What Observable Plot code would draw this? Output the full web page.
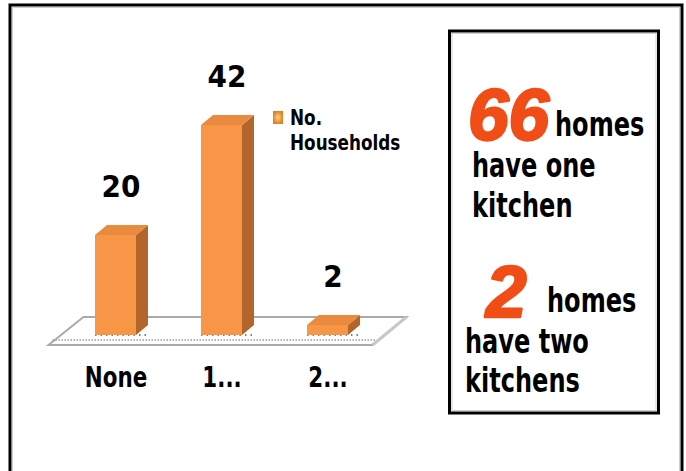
<!DOCTYPE html>
<html>
<head>
<meta charset="utf-8">
<script src="https://cdn.jsdelivr.net/npm/d3@7"></script>
<script src="https://cdn.jsdelivr.net/npm/@observablehq/plot@0.6"></script>
<style>
  html, body { margin: 0; padding: 0; background: #fff; }
  #wrap { position: relative; width: 686px; height: 471px; overflow: hidden; background: #fff; }
  #wrap svg { position: absolute; left: 0; top: 0; }
</style>
</head>
<body>
<div id="wrap"></div>
<script>
// ---- data ----
const categories = ["None", "1...", "2..."];
const households = [20, 42, 2];
const seriesName = ["No.", "Households"];
const summaryValues = [66, 2];
const summaryText = [["homes", "have one", "kitchen"], ["homes", "have two", "kitchens"]];

const data = categories.map((c, i) => ({cat: c, n: households[i]}));

const W = 686, H = 471;
const frontColor = "#f79646", topColor = "#ea8a3e", sideColor = "#b3662c";
const depthX = 12, depthY = 10;
const condensed = '"DejaVu Sans Condensed", "DejaVu Sans", sans-serif';

function svgEl(doc, name) { return doc.createElementNS("http://www.w3.org/2000/svg", name); }

// floor (drawn from the scales)
function floorMark(index, scales, values, dimensions, context) {
  const doc = context.document;
  const g = d3.select(svgEl(doc, "g"));
  const [r0, r1] = scales.x.range();
  const y0 = scales.y(0);
  const bl = [r0 + 20, y0 + 10], br = [r1 - 41, y0 + 10];
  const tl = [r0 + 55, y0 - 18], tr = [r1 - 7, y0 - 18];
  g.append("path")
    .attr("d", `M${bl}L${tl}L${tr}L${br}Z`)
    .attr("fill", "#fff").attr("stroke", "#aaaaaa").attr("stroke-width", 2);
  g.append("path")
    .attr("d", `M${bl[0] + 4},${y0 + 5}L${br[0] + 4},${y0 + 5}`)
    .attr("stroke", "#9a9a9a").attr("stroke-width", 1.5).attr("stroke-dasharray", "1.5,1.5");
  g.append("path")
    .attr("d", `M${br[0]},${br[1]}L${tr[0]},${tr[1]}`)
    .attr("stroke", "#c8c8c8").attr("stroke-width", 3).attr("fill", "none");
  return g.node();
}

function bars3d(index, scales, values, dimensions, context) {
  const doc = context.document;
  const g = d3.select(svgEl(doc, "g"));
  const {x, y} = scales;
  const bw = x.bandwidth();
  for (const i of index) {
    const d = data[i];
    const x0 = x(d.cat), x1 = x0 + bw;
    const yt = y(d.n), yb = y(0);
    g.append("path")
      .attr("d", `M${x0},${yb}L${x1 + depthX},${yb}`)
      .attr("stroke", "#555").attr("stroke-width", 1.5).attr("stroke-dasharray", "1.5,4");
    g.append("path")
      .attr("d", `M${x1},${yt}L${x1 + depthX},${yt - depthY}L${x1 + depthX},${yb - depthY}L${x1},${yb}Z`)
      .attr("fill", sideColor);
    g.append("path")
      .attr("d", `M${x0},${yt}L${x0 + depthX},${yt - depthY}L${x1 + depthX},${yt - depthY}L${x1},${yt}Z`)
      .attr("fill", topColor);
    g.append("rect")
      .attr("x", x0).attr("y", yt).attr("width", bw).attr("height", yb - yt)
      .attr("fill", frontColor);
  }
  return g.node();
}

const chart = Plot.plot({
  width: W,
  height: H,
  marginTop: 125,
  marginBottom: 136,
  marginLeft: 28.5,
  marginRight: 272.5,
  style: {background: "transparent", overflow: "visible"},
  x: {domain: categories, padding: 0.615, label: null},
  y: {domain: [0, 42], axis: null},
  marks: [
    floorMark,
    Plot.barY(data, {x: "cat", y: "n", render: bars3d}),
    Plot.text(data, {
      x: "cat", y: "n", text: d => String(d.n),
      dx: 5, dy: -39, lineAnchor: "bottom",
      fontSize: 31, fontWeight: "bold", fontFamily: condensed, fill: "#000"
    }),
    Plot.axisX({
      tickSize: 0, tickPadding: 32, label: null,
      fontSize: 28, fontWeight: "bold", fontFamily: condensed, fill: "#000"
    })
  ]
});
// narrow the tick labels horizontally (condensed look), keeping their vertical offset
d3.select(chart).selectAll('g[aria-label="x-axis tick label"] text').each(function () {
  const t = d3.select(this);
  const xa = t.attr("x");
  const tr = t.attr("transform") || "";
  if (xa != null && !isNaN(+xa)) {
    t.attr("x", null).attr("transform", `${tr} translate(${+xa},0) scale(0.85,1)`);
  } else {
    t.attr("transform", `${tr} scale(0.85,1)`);
  }
});
document.getElementById("wrap").appendChild(chart);

// ---- overlay: frames, legend, summary box ----
const ov = d3.create("svg").attr("width", W).attr("height", H);
ov.append("path").attr("d", `M12.5,${H}V7.5H679.5V${H}`).attr("fill", "none").attr("stroke", "#cfcfcf").attr("stroke-width", 1);
ov.append("path").attr("d", `M10,${H}V5H682V${H}`).attr("fill", "none").attr("stroke", "#000").attr("stroke-width", 3);
ov.append("rect").attr("x", 452).attr("y", 33.5).attr("width", 204).attr("height", 377).attr("fill", "none").attr("stroke", "#d0d0d0").attr("stroke-width", 1);
ov.append("rect").attr("x", 449.5).attr("y", 31).attr("width", 209).attr("height", 382).attr("fill", "none").attr("stroke", "#000").attr("stroke-width", 3);

function narrowText(parent, x, y, str, size, sx) {
  return parent.append("text")
    .attr("transform", `translate(${x},${y}) scale(${sx},1)`)
    .attr("font-family", condensed).attr("font-weight", "bold").attr("font-size", size)
    .attr("fill", "#000").text(str);
}

// legend
const defs = ov.append("defs");
const grad = defs.append("radialGradient").attr("id", "sw");
grad.append("stop").attr("offset", "0%").attr("stop-color", "#ffd27a");
grad.append("stop").attr("offset", "100%").attr("stop-color", "#e07f2c");
ov.append("rect").attr("x", 273).attr("y", 111).attr("width", 10).attr("height", 13).attr("fill", "url(#sw)");
narrowText(ov, 290, 125, seriesName[0], 22, 0.85);
narrowText(ov, 290, 150, seriesName[1], 22, 0.85);

// summary texts
const bigFont = '"Liberation Sans", Arial, sans-serif';
const blocks = [
  {num: [468, 140], first: [555, 136], l2: [472, 177], l3: [472, 217]},
  {num: [486, 317], first: [547, 312], l2: [465, 353], l3: [465, 392]}
];
blocks.forEach((b, k) => {
  ov.append("text").attr("x", b.num[0]).attr("y", b.num[1]).text(String(summaryValues[k]))
    .attr("font-family", bigFont).attr("font-weight", "bold").attr("font-style", "italic")
    .attr("font-size", 73).attr("fill", "#f04e16")
    .attr("stroke", "#f04e16").attr("stroke-width", 2.5).attr("stroke-linejoin", "round");
  const pos = [b.first, b.l2, b.l3];
  summaryText[k].forEach((t, j) => narrowText(ov, pos[j][0], pos[j][1], t, 33, 0.81));
});
document.getElementById("wrap").appendChild(ov.node());
</script>
</body>
</html>
